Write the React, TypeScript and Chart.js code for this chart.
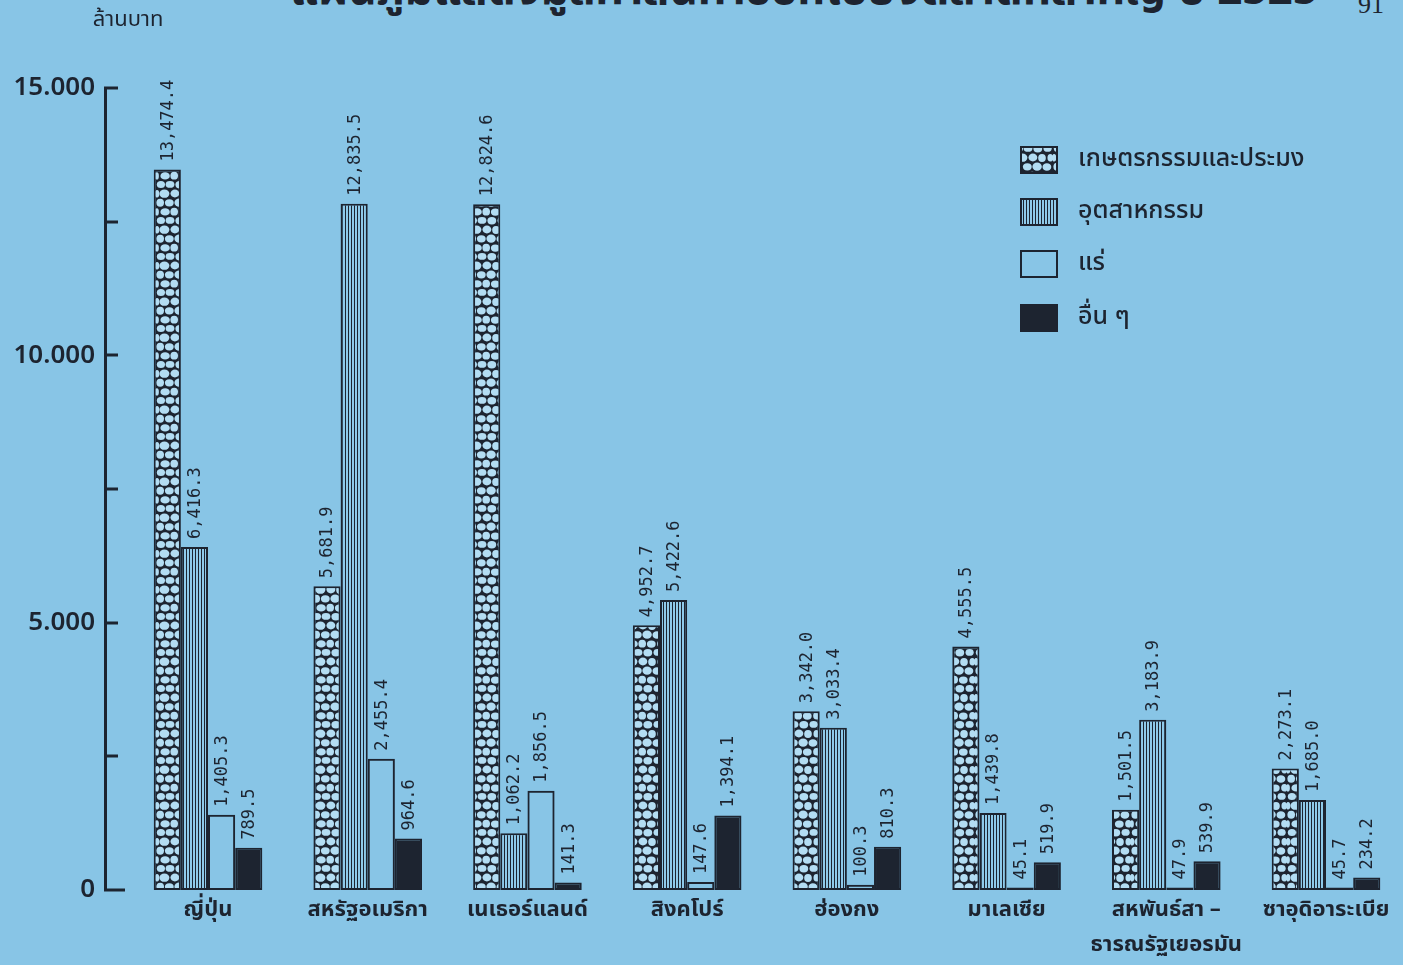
import React, { useEffect, useRef } from 'react';
import { Chart, registerables } from 'chart.js';

Chart.register(...registerables);

// ---------- data ----------
const categories: (string | string[])[] = [
  'ญี่ปุ่น',
  'สหรัฐอเมริกา',
  'เนเธอร์แลนด์',
  'สิงคโปร์',
  'ฮ่องกง',
  'มาเลเซีย',
  ['สหพันธ์สา –', 'ธารณรัฐเยอรมัน'],
  'ซาอุดิอาระเบีย',
];
const seriesNames = ['เกษตรกรรมและประมง', 'อุตสาหกรรม', 'แร่', 'อื่น ๆ'];
const agriculture = [13474.4, 5681.9, 12824.6, 4952.7, 3342.0, 4555.5, 1501.5, 2273.1];
const industry = [6416.3, 12835.5, 1062.2, 5422.6, 3033.4, 1439.8, 3183.9, 1685.0];
const minerals = [1405.3, 2455.4, 1856.5, 147.6, 100.3, 45.1, 47.9, 45.7];
const others = [789.5, 964.6, 141.3, 1394.1, 810.3, 519.9, 539.9, 234.2];
const yTickValues = [0, 2500, 5000, 7500, 10000, 12500, 15000];
const yTickLabels = ['0', '', '5.000', '', '10.000', '', '15.000'];
const yUnit = 'ล้านบาท';
const titleText = 'แผนภูมิแสดงมูลค่าสินค้าออกไปยังตลาดที่สำคัญ ปี 2525';
const pageNumber = '91';

// ---------- style ----------
const BG = '#88c5e6';
const INK = '#1d2430';
const THAI = "'Noto Sans Thai', 'Noto Sans Thai Looped', Loma, Garuda, 'Noto Sans', sans-serif";

function makeStonePattern(ctx: CanvasRenderingContext2D): CanvasPattern {
  const S = 1.4;
  const c = document.createElement('canvas');
  c.width = Math.round(28 * S);
  c.height = Math.round(26 * S);
  const g = c.getContext('2d')!;
  g.fillStyle = INK;
  g.fillRect(0, 0, c.width, c.height);
  g.fillStyle = '#b3ddf3';
  const stones: [number, number, number, number][] = [
    [3.5, 3.2, 2.8, 2.4], [10, 3.2, 3, 2.3], [17, 3.4, 3, 2.5], [24, 3.2, 2.8, 2.3],
    [0.8, 9.8, 1.5, 2.6], [6, 9.8, 3.4, 2.8], [13.5, 9.6, 3, 2.7], [20, 10, 2.6, 2.8], [26, 9.8, 2, 2.6],
    [3, 16.2, 2.6, 2.7], [9.5, 16.3, 3, 2.5], [16.5, 16.2, 3.2, 2.8], [23.5, 16.4, 3, 2.6],
    [0.6, 22.8, 1.4, 2.5], [6.5, 22.8, 3.2, 2.5], [13, 22.6, 2.6, 2.7], [19.5, 22.9, 3, 2.5], [26, 22.7, 2.2, 2.6],
  ];
  stones.forEach(([x, y, rx, ry]) => {
    g.beginPath();
    g.ellipse(x * S, y * S, rx * S * 1.05, ry * S * 1.05, 0, 0, Math.PI * 2);
    g.fill();
  });
  return ctx.createPattern(c, 'repeat')!;
}

function makeStripePattern(ctx: CanvasRenderingContext2D): CanvasPattern {
  const c = document.createElement('canvas');
  c.width = 3;
  c.height = 4;
  const g = c.getContext('2d')!;
  g.fillStyle = '#8fcaea';
  g.fillRect(0, 0, 3, 4);
  g.fillStyle = INK;
  g.fillRect(0, 0, 1, 4);
  return ctx.createPattern(c, 'repeat')!;
}

const fmt = (v: number) =>
  v.toLocaleString('en-US', { minimumFractionDigits: 1, maximumFractionDigits: 1 });

export default function App() {
  const ref = useRef<HTMLCanvasElement>(null);

  useEffect(() => {
    const canvas = ref.current!;
    const ctx = canvas.getContext('2d')!;
    const stones = makeStonePattern(ctx);
    const stripes = makeStripePattern(ctx);
    const fills: (string | CanvasPattern)[] = [stones, stripes, 'rgba(0,0,0,0)', INK];
    const series = [agriculture, industry, minerals, others];

    const datasets = series.map((vals, si) => ({
      label: seriesNames[si],
      data: vals.map((v, i) => ({ x: i, y: v })),
      backgroundColor: fills[si],
      borderColor: INK,
      borderWidth: 2,
      borderSkipped: false as const,
      categoryPercentage: 0.68,
      barPercentage: 1,
    }));

    const decorPlugin = {
      id: 'decor',
      afterDatasetsDraw(chart: any) {
        const c = chart.ctx;
        c.save();
        c.font = "17px 'DejaVu Sans Mono', monospace";
        c.fillStyle = INK;
        c.textAlign = 'left';
        c.textBaseline = 'middle';
        chart.data.datasets.forEach((ds: any, di: number) => {
          const meta = chart.getDatasetMeta(di);
          meta.data.forEach((bar: any, i: number) => {
            c.save();
            c.translate(bar.x + 1, bar.y - 8);
            c.rotate(-Math.PI / 2);
            c.fillText(fmt(ds.data[i].y), 0, 0);
            c.restore();
          });
        });
        c.restore();
      },
      afterDraw(chart: any) {
        const c = chart.ctx;
        const y = chart.scales.y;
        const left = chart.chartArea.left;
        c.save();
        c.strokeStyle = INK;
        c.lineWidth = 3;
        y.ticks.forEach((t: any) => {
          const py = Math.round(y.getPixelForValue(t.value));
          const len = t.value === 0 ? 20 : 13;
          c.beginPath();
          c.moveTo(left - 1, py);
          c.lineTo(left + len, py);
          c.stroke();
        });
        c.fillStyle = INK;
        c.font = `22px ${THAI}`;
        c.textAlign = 'center';
        c.textBaseline = 'middle';
        c.fillText(yUnit, 128, 22);
        const rows = [160, 212, 264, 318];
        chart.data.datasets.forEach((ds: any, di: number) => {
          const cy = rows[di];
          c.fillStyle = ds.backgroundColor;
          c.fillRect(1020, cy - 14, 38, 28);
          c.lineWidth = 2;
          c.strokeStyle = INK;
          c.strokeRect(1021, cy - 13, 36, 26);
          c.fillStyle = INK;
          c.font = `500 25px ${THAI}`;
          c.textAlign = 'left';
          c.textBaseline = 'middle';
          c.fillText(ds.label, 1078, cy + 1);
        });
        c.restore();
      },
    };

    const chart = new Chart(ctx, {
      type: 'bar',
      data: { datasets },
      options: {
        animation: false,
        responsive: false,
        maintainAspectRatio: false,
        layout: { padding: { top: 88, left: 0, right: 0, bottom: 0 } },
        plugins: { legend: { display: false }, tooltip: { enabled: false } },
        scales: {
          x: {
            type: 'linear',
            min: -0.645,
            max: 7.482,
            offset: false,
            grid: { display: false, drawTicks: false },
            border: { display: false },
            afterBuildTicks: (s: any) => {
              s.ticks = categories.map((_, i) => ({ value: i }));
            },
            afterFit: (s: any) => {
              s.height = 75;
            },
            ticks: {
              autoSkip: false,
              maxRotation: 0,
              padding: 4,
              color: INK,
              font: { family: THAI, size: 22, weight: 'bold', lineHeight: 1.6 },
              callback: (v: any) => categories[Math.round(v)] ?? '',
            },
          },
          y: {
            min: 0,
            max: 15000,
            grid: { display: false, drawTicks: false },
            border: { display: true, color: INK, width: 3 },
            afterBuildTicks: (s: any) => {
              s.ticks = yTickValues.map((v) => ({ value: v }));
            },
            afterFit: (s: any) => {
              s.width = 105;
            },
            ticks: {
              padding: 10,
              color: INK,
              font: { family: "'Noto Sans', sans-serif", size: 26, weight: 600 },
              callback: (_v: any, i: number) => yTickLabels[i],
            },
          },
        },
      },
      plugins: [decorPlugin],
    } as any);

    return () => chart.destroy();
  }, []);

  return (
    <div
      style={{
        position: 'fixed',
        left: 0,
        top: 0,
        width: 1403,
        height: 965,
        background: BG,
        overflow: 'hidden',
      }}
    >
      <div
        style={{
          position: 'absolute',
          left: 290,
          top: -36,
          fontFamily: THAI,
          fontWeight: 'bold',
          fontSize: 44,
          color: INK,
          whiteSpace: 'nowrap',
          lineHeight: '54px',
        }}
      >
        {titleText}
      </div>
      <div
        style={{
          position: 'absolute',
          left: 1358,
          top: -10,
          fontFamily: "'Liberation Serif', serif",
          fontSize: 26,
          color: INK,
          lineHeight: '30px',
        }}
      >
        {pageNumber}
      </div>
      <canvas
        ref={ref}
        width={1403}
        height={965}
        style={{ position: 'absolute', left: 0, top: 0, width: 1403, height: 965 }}
      />
    </div>
  );
}
